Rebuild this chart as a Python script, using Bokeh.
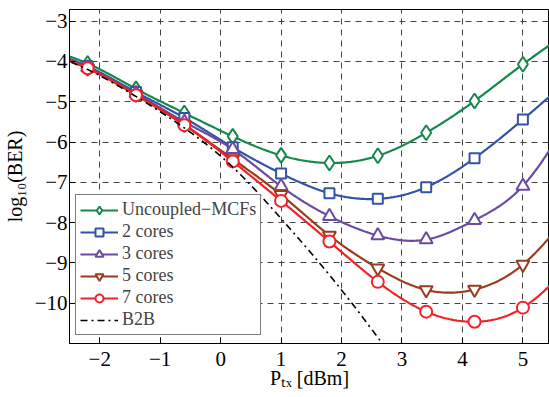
import numpy as np
from bokeh.plotting import figure
from bokeh.models import (Legend, LegendItem, FixedTicker, ColumnDataSource)
from bokeh.embed import file_html
from bokeh.resources import INLINE

# ---------------- data ----------------
ptx = [-3.0, -2.2, -1.4, -0.6, 0.2, 1.0, 1.8, 2.6, 3.4, 4.2, 5.0, 5.8]
uncoupled = [-3.65, -4.05, -4.68, -5.28, -5.86, -6.33, -6.52, -6.34, -5.77, -4.98, -4.07, -3.23]
cores2 = [-3.68, -4.12, -4.76, -5.40, -6.13, -6.78, -7.27, -7.41, -7.12, -6.40, -5.44, -4.40]
cores3 = [-3.70, -4.15, -4.79, -5.50, -6.18, -7.10, -7.84, -8.32, -8.42, -7.94, -7.09, -5.33]
cores5 = [-3.72, -4.17, -4.82, -5.57, -6.42, -7.31, -8.32, -9.13, -9.67, -9.66, -9.04, -7.72]
cores7 = [-3.73, -4.17, -4.84, -5.58, -6.48, -7.46, -8.47, -9.47, -10.21, -10.46, -10.11, -9.03]
ptx_b2b = [-3.0, -2.2, -1.4, -0.6, 0.2, 1.0, 1.8, 2.6, 3.4]
b2b = [-3.72, -4.20, -4.87, -5.65, -6.62, -7.90, -9.30, -10.85, -12.50]

x_ticks = [-2, -1, 0, 1, 2, 3, 4, 5]
x_tick_labels = ["\u22122", "\u22121", "0", "1", "2", "3", "4", "5"]
y_ticks = [-10, -9, -8, -7, -6, -5, -4, -3]
y_tick_labels = ["\u221210", "\u22129", "\u22128", "\u22127", "\u22126", "\u22125", "\u22124", "\u22123"]

x_title = "P\u209c\u2093 [dBm]"
y_title = "log\u2081\u2080(BER)"

series_names = ["Uncoupled\u2212MCFs", "2 cores", "3 cores", "5 cores", "7 cores"]
series_values = [uncoupled, cores2, cores3, cores5, cores7]
series_colors = ["#16884a", "#3453a6", "#6a4aa2", "#9a3a1e", "#f2222a"]
series_markers = ["diamond", "square", "triangle", "inverted_triangle", "circle"]
series_sizes = [15, 10, 13, 13, 12]


def smooth(xs, ys, n=500):
    """natural cubic spline through the given points (for drawing the curve)"""
    x = np.asarray(xs, float)
    y = np.asarray(ys, float)
    m = len(x)
    h = np.diff(x)
    A = np.zeros((m, m))
    b = np.zeros(m)
    A[0, 0] = 1
    A[-1, -1] = 1
    for i in range(1, m - 1):
        A[i, i - 1] = h[i - 1]
        A[i, i] = 2 * (h[i - 1] + h[i])
        A[i, i + 1] = h[i]
        b[i] = 3 * ((y[i + 1] - y[i]) / h[i] - (y[i] - y[i - 1]) / h[i - 1])
    c = np.linalg.solve(A, b)
    xx = np.linspace(x[0], x[-1], n)
    idx = np.clip(np.searchsorted(x, xx) - 1, 0, m - 2)
    dx = xx - x[idx]
    bb = (y[idx + 1] - y[idx]) / h[idx] - h[idx] * (2 * c[idx] + c[idx + 1]) / 3
    dd = (c[idx + 1] - c[idx]) / (3 * h[idx])
    yy = y[idx] + bb * dx + c[idx] * dx ** 2 + dd * dx ** 3
    return xx, yy


FONT = "Liberation Serif"

p = figure(width=549, height=397, x_range=(-2.5, 5.44), y_range=(-11.0, -2.71),
           output_backend="svg", toolbar_location=None,
           min_border_left=64, min_border_right=0, min_border_top=9, min_border_bottom=54)
p.background_fill_color = "white"
p.border_fill_color = "white"
p.outline_line_color = "black"
p.outline_line_width = 1

for ax in (p.xaxis, p.yaxis):
    ax.axis_line_color = "black"
    ax.major_tick_in = 6
    ax.major_tick_out = 0
    ax.minor_tick_line_color = None
    ax.major_label_text_font = FONT
    ax.major_label_text_font_size = "21px"
    ax.major_label_text_color = "black"
    ax.axis_label_text_font = FONT
    ax.axis_label_text_font_size = "20px"
    ax.axis_label_text_font_style = "normal"
    ax.axis_label_text_color = "black"

p.xaxis.ticker = FixedTicker(ticks=x_ticks)
p.yaxis.ticker = FixedTicker(ticks=y_ticks)
p.xaxis.major_label_overrides = {t: s for t, s in zip(x_ticks, x_tick_labels)}
p.yaxis.major_label_overrides = {t: s for t, s in zip(y_ticks, y_tick_labels)}
p.xaxis.major_label_standoff = 8
p.yaxis.major_label_standoff = 2
p.xaxis.axis_label = x_title
p.yaxis.axis_label = y_title
p.xaxis.axis_label_standoff = -2
p.yaxis.axis_label_standoff = 6

for g in (p.xgrid, p.ygrid):
    g.grid_line_color = "#444444"
    g.grid_line_dash = "6 5"
    g.grid_line_width = 1

items = []
for name, vals, col, mk, sz in zip(series_names, series_values, series_colors,
                                    series_markers, series_sizes):
    xx, yy = smooth(ptx, vals)
    ln = p.line(xx, yy, line_color=col, line_width=2.2)
    src = ColumnDataSource(dict(x=ptx, y=vals))
    sc = p.scatter("x", "y", source=src, marker=mk, size=sz, line_color=col,
                   line_width=2, fill_color="white")
    items.append(LegendItem(label=name, renderers=[ln, sc]))

xb, yb = smooth(ptx_b2b, b2b)
lb = p.line(xb, yb, line_color="black", line_width=1.6, line_dash="7 4 2 4")
items.append(LegendItem(label="B2B", renderers=[lb]))

legend = Legend(items=items, location=(6, 8))
legend.label_text_font = FONT
legend.label_text_font_size = "18px"
legend.label_height = 20
legend.glyph_height = 20
legend.glyph_width = 38
legend.spacing = 1
legend.padding = 4
legend.margin = 0
legend.label_standoff = 4
legend.border_line_color = "black"
legend.border_line_width = 1
legend.background_fill_alpha = 1.0
p.add_layout(legend)

open("out.html", "w").write(file_html(p, INLINE))
